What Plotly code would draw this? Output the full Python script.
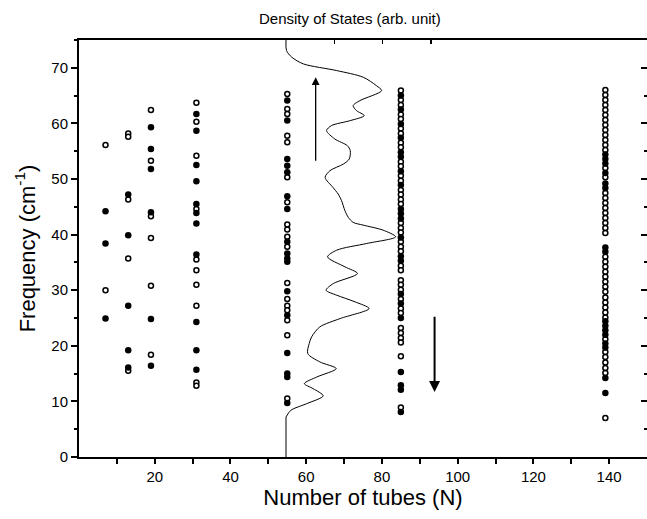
import plotly.graph_objects as go

# ---- data ----
tube_counts = [7, 13, 19, 31, 55, 85, 139]

open_modes = {
    7: [56.1, 30.0],
    13: [58.2, 57.6, 46.3, 35.7, 15.5],
    19: [62.4, 53.3, 43.3, 39.4, 30.8, 18.4],
    31: [63.7, 60.3, 54.2, 44.6, 35.5, 33.6, 31.0, 27.2, 13.4, 12.8],
    55: [65.3, 62.6, 61.7, 57.8, 56.6, 50.3, 45.8, 41.8, 40.9, 39.6, 37.8,
         31.3, 28.4, 27.2, 26.4, 24.6, 21.9, 10.5],
    85: [65.9, 64.2, 63.3, 61.6, 60.8, 59.1, 58.2, 56.5, 55.7, 53.1, 52.3,
         50.6, 49.7, 48.0, 47.2, 46.3, 45.5, 42.1, 41.2, 40.4, 38.7, 37.8,
         37.0, 34.4, 33.6, 31.8, 31.0, 30.1, 28.4, 26.7, 25.9, 23.2, 22.3,
         21.4, 20.6, 18.1, 8.9],
    139: [66.0, 65.1, 64.2, 63.3, 62.4, 61.5, 60.6, 59.7, 58.8, 57.9, 57.0,
          56.1, 55.2, 52.0, 50.3, 47.5, 46.6, 45.7, 44.8, 43.9, 43.0, 42.1,
          41.2, 40.3, 36.0, 35.1, 34.2, 33.3, 32.4, 31.5, 30.6, 29.7, 28.7,
          27.8, 26.9, 26.0, 25.1, 21.2, 18.9, 18.0, 17.0, 16.0, 15.1, 7.0],
}

filled_modes = {
    7: [44.2, 38.4, 24.9],
    13: [47.2, 39.9, 27.2, 19.2, 16.1],
    19: [59.3, 55.4, 51.8, 44.0, 24.8, 16.4],
    31: [61.7, 58.7, 52.5, 49.6, 45.5, 43.9, 42.0, 36.4, 24.3, 19.2, 15.7],
    55: [64.1, 60.5, 53.6, 52.4, 51.2, 46.9, 44.6, 38.7, 36.6, 35.7, 35.1,
         29.8, 25.5, 18.7, 15.0, 14.4, 9.7],
    85: [65.0, 62.5, 59.9, 57.4, 54.8, 54.0, 51.4, 48.9, 44.6, 43.8, 42.9,
         39.5, 36.1, 35.3, 29.3, 27.6, 25.0, 15.3, 12.9, 12.1, 8.1],
    139: [54.4, 53.6, 52.8, 51.1, 49.2, 48.4, 37.7, 36.9, 24.4, 23.6, 22.8,
          22.0, 20.4, 19.7, 14.2, 11.5],
}

# density of states curve (frequency, DOS in arb. units)
dos_freq = [0, 7.2, 8.4, 9.6, 11.0, 12.3, 13.2, 14.4, 15.9, 17.1, 18.6, 20.4,
            21.6, 23.4, 24.9, 26.7, 27.9, 29.1, 30.0, 31.2, 33.0, 34.2, 36.0,
            37.2, 38.4, 39.6, 40.8, 41.7, 42.2, 43.1, 44.3, 46.1, 47.3, 48.5,
            50.3, 51.5, 52.7, 53.6, 55.1, 56.0, 57.2, 58.7, 59.6, 60.5, 61.4,
            62.3, 63.2, 64.1, 65.9, 66.8, 68.3, 69.5, 70.7, 71.9, 73.1, 75.0]
dos_val = [0, 0, 0.10, 0.43, 0.77, 0.56, 0.38, 0.64, 1.04, 0.70, 0.45, 0.48,
           0.53, 0.70, 1.12, 1.72, 1.43, 1.05, 0.83, 0.98, 1.48, 1.22, 0.86,
           1.05, 1.67, 2.27, 2.01, 1.60, 1.39, 1.29, 1.22, 1.15, 1.08, 0.97,
           0.81, 0.91, 1.19, 1.31, 1.33, 1.27, 1.01, 0.84, 0.94, 1.33, 1.62,
           1.46, 1.39, 1.53, 1.98, 1.87, 1.60, 1.05, 0.36, 0.12, 0.01, 0]

x_ticks = [20, 40, 60, 80, 100, 120, 140]
x_minor = [10, 30, 50, 70, 90, 110, 130]
y_ticks = [0, 10, 20, 30, 40, 50, 60, 70]
y_minor = [5, 15, 25, 35, 45, 55, 65, 75]
dos_ticks = [1, 2, 3]

# ---- layout constants ----
W, H = 647, 519
ML, MR, MT, MB = 79, 0, 40, 62
PW, PH = W - ML - MR, H - MT - MB

ox, oy, fx, fy = [], [], [], []
for n in tube_counts:
    for v in open_modes[n]:
        ox.append(n); oy.append(v)
    for v in filled_modes[n]:
        fx.append(n); fy.append(v)

FONT = "Liberation Sans, Arial, Helvetica, sans-serif"

fig = go.Figure()
# vertical baseline part of the DOS curve (straight)
fig.add_trace(go.Scatter(
    x=dos_val[:2], y=dos_freq[:2], mode="lines", xaxis="x2", yaxis="y",
    line=dict(color="black", width=1), hoverinfo="skip", showlegend=False))
# smooth part
fig.add_trace(go.Scatter(
    x=dos_val[1:], y=dos_freq[1:], mode="lines", xaxis="x2", yaxis="y",
    line=dict(color="black", width=1, shape="spline", smoothing=0.8),
    hoverinfo="skip", showlegend=False))
fig.add_trace(go.Scatter(
    x=ox, y=oy, mode="markers",
    marker=dict(symbol="circle", size=5, color="white",
                line=dict(color="black", width=1.5)),
    showlegend=False))
fig.add_trace(go.Scatter(
    x=fx, y=fy, mode="markers",
    marker=dict(symbol="circle", size=6.5, color="black",
                line=dict(color="black", width=0)),
    showlegend=False))
# invisible trace to activate right-side tick axis
fig.add_trace(go.Scatter(x=[None], y=[None], yaxis="y2", showlegend=False,
                         hoverinfo="skip"))

fig.add_annotation(x=62.5, y=68.3, ax=62.5, ay=53.0, xref="x", yref="y",
                   axref="x", ayref="y", showarrow=True, arrowhead=2,
                   arrowsize=1.2, arrowwidth=1.3, arrowcolor="black", text="")
fig.add_annotation(x=93.9, y=11.7, ax=93.9, ay=25.5, xref="x", yref="y",
                   axref="x", ayref="y", showarrow=True, arrowhead=2,
                   arrowsize=1.1, arrowwidth=2, arrowcolor="black", text="")

fig.add_annotation(text="Density of States (arb. unit)",
                   x=(350 - ML) / PW, y=1 + (MT - 18) / PH,
                   xref="paper", yref="paper", showarrow=False,
                   xanchor="center", yanchor="middle",
                   font=dict(family=FONT, size=15, color="black"))

fig.update_layout(
    width=W, height=H,
    margin=dict(l=ML, r=MR, t=MT, b=MB, autoexpand=False),
    paper_bgcolor="white", plot_bgcolor="white",
    font=dict(family=FONT, color="black", size=15),
    xaxis=dict(range=[0, 150], tickvals=x_ticks, ticks="outside",
               ticklen=5, tickwidth=2, tickcolor="black",
               minor=dict(tickvals=x_minor, ticks="outside", ticklen=5,
                          tickwidth=2, tickcolor="black"),
               showline=True, linewidth=2, linecolor="black",
               showgrid=False, zeroline=False, automargin=False,
               tickfont=dict(size=15),
               title=dict(text="Number of tubes (N)", font=dict(size=22),
                          standoff=3)),
    xaxis2=dict(range=[-4.286, 7.474], overlaying="x", side="top",
                tickvals=dos_ticks, ticks="inside", ticklen=4, tickwidth=1.5,
                tickcolor="black", showticklabels=False, showline=True,
                linewidth=2, linecolor="black", showgrid=False,
                zeroline=False, automargin=False),
    yaxis=dict(range=[0, 75], tickvals=y_ticks, ticks="outside",
               ticklen=6, tickwidth=2, tickcolor="black",
               minor=dict(tickvals=y_minor, ticks="outside", ticklen=3,
                          tickwidth=2, tickcolor="black"),
               showline=True, linewidth=2, linecolor="black",
               showgrid=False, zeroline=False, automargin=False,
               tickfont=dict(size=15),
               title=dict(text="Frequency (cm<sup>-1</sup>)",
                          font=dict(size=22), standoff=10)),
    yaxis2=dict(range=[0, 75], overlaying="y", side="right",
                tickvals=[10, 20, 30, 40, 50, 60, 70], ticks="inside",
                ticklen=6, tickwidth=2, tickcolor="black",
                minor=dict(tickvals=[5, 15, 25, 35, 45, 55, 65],
                           ticks="inside", ticklen=3, tickwidth=2,
                           tickcolor="black"),
                showticklabels=False, showline=False, showgrid=False,
                zeroline=False, automargin=False),
)

fig.write_html(
    "out.html",
    config={"displayModeBar": False, "staticPlot": True},
    post_script="document.body.style.margin='0';"
                "document.body.style.overflow='hidden';")
